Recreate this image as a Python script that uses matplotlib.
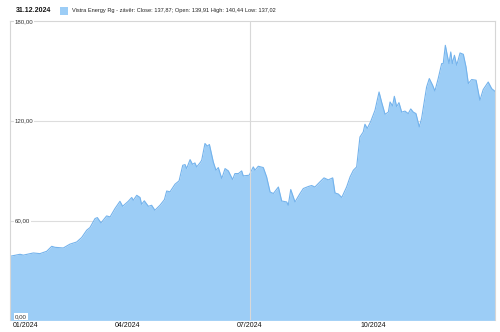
import numpy as np
import matplotlib
matplotlib.use("Agg")
import matplotlib.pyplot as plt

plt.rcParams['font.family'] = ['Liberation Sans', 'DejaVu Sans']

# trading-day index (0 = 2.1.2024, 251 = 31.12.2024) and close price
day = [0, 5.2, 6.9, 12.1, 15.5, 19, 21.6, 23.3, 27.6, 31, 34.5, 37.1, 39.7, 41.4,
       44, 45.2, 47.1, 50, 51.8, 54.3, 56.9, 58.3, 61.2, 63, 63.8, 65.6, 67.3, 68.1,
       69.5, 71.6, 73.3, 75, 77.6, 79.9, 81.1, 82.8, 85.4, 87.5, 89.4, 90.6, 91.4,
       93.2, 94.4, 95.7, 96.6, 98.3, 99.2, 100.9, 102.1, 103.2, 105.2, 106.6, 107.8,
       109.6, 111.3, 113, 115.2, 116.4, 118.2, 119.9, 120.7, 123.8,
       124.2, 125.9, 126.8, 128.5, 131.1, 132.8, 134.6, 136.3, 138.9, 140.6, 143.2,
       144, 145.3, 147.5, 150.1, 151.8, 154.4, 156.1, 157.8, 160.4, 162.5, 164.7,
       167, 168.2, 169.9, 171.7, 174.2, 176, 177.7, 179.4, 181.1, 182.8, 183.7,
       184.9, 186.6, 188.9, 191, 192.3, 194.1, 195.8, 196.7, 198, 198.9, 200.1,
       201.3, 202.7, 204.4, 206.1, 207.4, 208.7, 210.1, 211.8, 213, 214.8, 215.6,
       217, 218.7, 219.9, 221.6, 223.4, 224.2, 225.3, 226.3, 227.2, 228.1, 228.9,
       230, 231.2, 232.9, 234.6, 236, 237.2, 238.9, 241.2, 243.2, 244.9, 247.5,
       249.3, 251]
close = [38.6, 39.8, 39.3, 40.6, 40.2, 41.6, 44.6, 44.0, 43.6, 45.9, 47.2, 49.9, 54.3, 55.9,
         61.3, 61.9, 58.7, 62.9, 62.3, 67.3, 71.7, 68.7, 71.7, 74.0, 72.3, 75.3, 74.0, 69.9,
         72.0, 68.7, 69.3, 66.3, 69.3, 72.7, 77.9, 77.4, 82.0, 84.0, 93.4, 93.8, 91.4,
         96.8, 94.0, 94.8, 92.4, 94.8, 96.4, 106.5, 104.9, 105.9, 95.4, 90.4, 92.0,
         85.4, 91.4, 90.0, 84.8, 88.4, 88.4, 90.0, 87.0, 87.4,
         88.4, 92.4, 90.4, 92.8, 92.0, 86.4, 77.3, 76.4, 80.3, 71.9, 71.3,
         69.3, 78.8, 71.3, 76.4, 79.4, 80.6, 81.2, 80.3, 83.4, 85.8, 84.6,
         85.8, 76.7, 76.1, 74.0, 80.3, 86.4, 90.4, 92.4, 110.4, 113.4, 118.1,
         115.6, 119.5, 126.5, 137.5, 131.5, 124.1, 125.4, 131.5, 129.1, 134.9, 128.7,
         131.1, 125.4, 126.0, 124.5, 127.3, 125.4, 124.5, 116.5, 121.5, 134.5, 140.5,
         145.6, 141.6, 138.1, 145.6, 154.6, 154.6, 165.6, 159.6, 154.6, 161.6, 154.6,
         159.6, 153.6, 161.0, 160.2, 152.6, 142.6, 145.0, 144.6, 132.5, 139.0, 143.5,
         139.5, 137.9]

month_ticks = [1.5, 61, 124, 188]
month_labels = ["01/2024", "04/2024", "07/2024", "10/2024"]
y_ticks = [0, 60, 120, 180]
y_labels = ["0,00", "60,00", "120,00", "180,00"]

header_date = "31.12.2024"
legend_text = "Vistra Energy Rg - závěr: Close: 137,87; Open: 139,91 High: 140,44 Low: 137,02"

fill_col = "#9ccdf6"
line_col = "#74b3ec"

fig = plt.figure(figsize=(5, 3.32), dpi=100)
ax = fig.add_axes([10 / 500, 1 - 320.4 / 332, 485 / 500, 299 / 332])

ax.fill_between(day, close, 0, color=fill_col, lw=0, zorder=1)
ax.plot(day, close, color=line_col, lw=0.8, zorder=2)

ax.set_xlim(0, 251)
ax.set_ylim(0, 180)

for v in (60, 120):
    ax.axhline(v, color="#dddddd", lw=0.8, zorder=0.5)
ax.axvline(124, color="#d8d8d8", lw=0.8, zorder=3)

for side in ["top", "right", "left", "bottom"]:
    ax.spines[side].set_color("#d6d6d6")
    ax.spines[side].set_linewidth(0.8)
ax.spines["bottom"].set_visible(False)

ax.set_yticks([])
ax.set_xticks(month_ticks)
ax.set_xticklabels(month_labels, fontsize=5, color="#111111")
ax.tick_params(axis="x", length=0, pad=1.5)
ax.get_xticklabels()[0].set_ha("left")

for v, lab in zip(y_ticks, y_labels):
    yy = v if v > 0 else 2.2
    ax.text(2.5, yy, lab, fontsize=4.4, color="#333333", va="center", ha="left",
            bbox=dict(facecolor="white", edgecolor="none", pad=0.6), zorder=5)

fig.text(16 / 500, 1 - 10.5 / 332, header_date, fontsize=5, fontweight="bold",
         color="#111111", va="center", ha="left")
fig.patches.append(plt.Rectangle((60 / 500, 1 - 15 / 332), 8 / 500, 8 / 332,
                                 transform=fig.transFigure, facecolor=fill_col,
                                 edgecolor="none"))
fig.text(72 / 500, 1 - 10.5 / 332, legend_text, fontsize=4.1, color="#222222",
         va="center", ha="left")

fig.savefig("out.png", dpi=100)
